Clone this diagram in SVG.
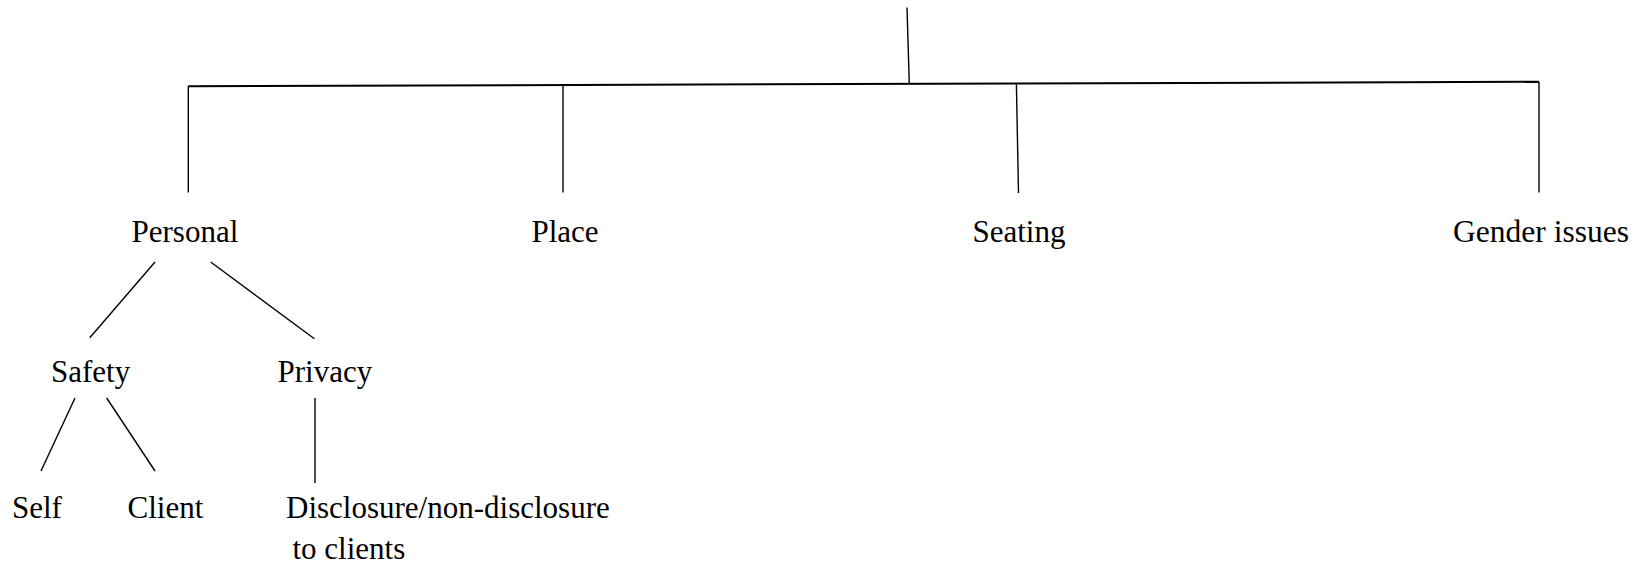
<svg xmlns="http://www.w3.org/2000/svg" width="1638" height="568" viewBox="0 0 1638 568">
  <style>
    .lbl { font-family: "Liberation Serif", "Times New Roman", serif; font-size: 31px; fill: #000; }
    .ln { stroke: #000; stroke-width: 1.4; fill: none; }
    .bar { stroke: #000; stroke-width: 2; fill: none; }
  </style>
  <rect width="1638" height="568" fill="#fff"/>
  <g id="connectors">
    <line class="ln" x1="907" y1="7.5" x2="909.3" y2="84"/>
    <line class="bar" x1="188.3" y1="86.2" x2="1539" y2="81.8"/>
    <line class="ln" x1="188.3" y1="86.2" x2="188.3" y2="192.5"/>
    <line class="ln" x1="563" y1="85" x2="563" y2="192.5"/>
    <line class="ln" x1="1016.4" y1="84.5" x2="1018.5" y2="193"/>
    <line class="ln" x1="1539" y1="81.8" x2="1539" y2="192.5"/>
    <line class="ln" x1="155" y1="262" x2="89.8" y2="337.8"/>
    <line class="ln" x1="210.7" y1="262" x2="314.4" y2="338.8"/>
    <line class="ln" x1="75" y1="398" x2="41" y2="471"/>
    <line class="ln" x1="106.7" y1="398" x2="155" y2="471"/>
    <line class="ln" x1="315" y1="398" x2="315" y2="483"/>
  </g>
  <g id="node-personal"><text class="lbl" x="131.5" y="242">Personal</text></g>
  <g id="node-place"><text class="lbl" x="531.5" y="242">Place</text></g>
  <g id="node-seating"><text class="lbl" x="972.5" y="242">Seating</text></g>
  <g id="node-gender"><text class="lbl" x="1453" y="242" textLength="176" lengthAdjust="spacingAndGlyphs">Gender issues</text></g>
  <g id="node-safety"><text class="lbl" x="51" y="382">Safety</text></g>
  <g id="node-privacy"><text class="lbl" x="277.5" y="382">Privacy</text></g>
  <g id="node-self"><text class="lbl" x="12" y="518">Self</text></g>
  <g id="node-client"><text class="lbl" x="127.5" y="518">Client</text></g>
  <g id="node-disclosure"><text class="lbl" x="286" y="518">Disclosure/non-disclosure</text><text class="lbl" x="292.5" y="559">to clients</text></g>
</svg>
